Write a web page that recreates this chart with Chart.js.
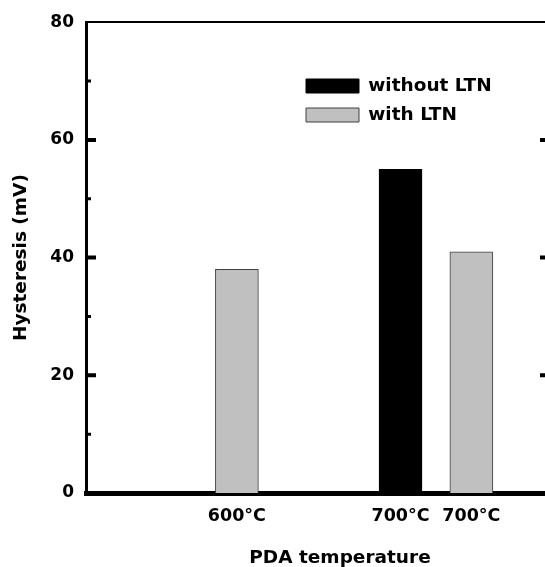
<!DOCTYPE html>
<html>
<head>
<meta charset="utf-8">
<script src="https://cdn.jsdelivr.net/npm/chart.js@4"></script>
<style>
  html, body { margin: 0; padding: 0; overflow: hidden; background: #fff; }
  canvas { display: block; }
</style>
</head>
<body>
<canvas id="chart" width="560" height="567"></canvas>
<script>
// bar slots along the temperature axis and their labels
const tempLabels = ["600\u00b0C", "700\u00b0C", "700\u00b0C"];
const slotX = [2.13, 4.44, 5.44];
const withoutLTN = [null, 55, null];
const withLTN = [38, null, 41];

const FONT = "'DejaVu Sans', sans-serif";
Chart.defaults.color = "#000";
Chart.defaults.font.family = FONT;

const toPoints = (vals) => slotX.map((x, i) => ({ x: x, y: vals[i] }));

// inward tick marks on the left and right axes
const innerTicks = {
  id: "innerTicks",
  afterDatasetsDraw(chart) {
    const { ctx, chartArea } = chart;
    const y = chart.scales.y;
    ctx.save();
    ctx.strokeStyle = "#000";
    y.ticks.forEach((t) => {
      if (t.value === y.min || t.value === y.max) return;
      const py = y.getPixelForValue(t.value);
      const major = t.value % 20 === 0;
      const len = major ? 10 : 5;
      ctx.lineWidth = major ? 4 : 3;
      ctx.beginPath();
      ctx.moveTo(chartArea.left, py);
      ctx.lineTo(chartArea.left + len, py);
      ctx.moveTo(chartArea.right, py);
      ctx.lineTo(chartArea.right - len, py);
      ctx.stroke();
    });
    ctx.restore();
  },
};

// legend inside the plot, and the x title centred a bit further right
const placeBoxes = {
  id: "placeBoxes",
  afterLayout(chart) {
    const lg = chart.legend;
    lg.left = 295.5;
    lg.top = 66.25;
    chart.scales.x.right += 44;
  },
};

new Chart(document.getElementById("chart"), {
  type: "bar",
  data: {
    datasets: [
      {
        label: "without LTN",
        data: toPoints(withoutLTN),
        backgroundColor: "#000",
        borderColor: "#000",
        borderWidth: 1,
      },
      {
        label: "with LTN",
        data: toPoints(withLTN),
        backgroundColor: "#c0c0c0",
        borderColor: "#404040",
        borderWidth: 1,
      },
    ],
  },
  options: {
    responsive: false,
    animation: false,
    devicePixelRatio: 1,
    layout: { padding: 0 },
    datasets: { bar: { barThickness: 43, grouped: false } },
    plugins: {
      tooltip: { enabled: false },
      legend: {
        position: "chartArea",
        align: "start",
        labels: {
          boxWidth: 53,
          boxHeight: 14,
          padding: 10.5,
          color: "#000",
          font: { family: FONT, size: 18.5, weight: "bold", lineHeight: 1 },
        },
      },
    },
    scales: {
      x: {
        type: "linear",
        position: "bottom",
        offset: false,
        min: 0,
        max: 6.55,
        grid: { display: false, drawTicks: false, offset: false },
        border: { display: true, width: 5, color: "#000" },
        afterBuildTicks: (s) => {
          s.ticks = slotX.map((v) => ({ value: v }));
        },
        afterFit: (s) => {
          s.height = 74;
        },
        ticks: {
          autoSkip: false,
          maxRotation: 0,
          padding: 13,
          font: { family: FONT, size: 17.5, weight: "bold" },
          callback: (v, i) => tempLabels[i],
        },
        title: {
          display: true,
          text: "PDA temperature",
          font: { family: FONT, size: 18.5, weight: "bold", lineHeight: 1 },
          padding: { top: 10, bottom: 0 },
        },
      },
      x2: {
        type: "linear",
        position: "top",
        offset: false,
        min: 0,
        max: 6.55,
        grid: { display: false, drawTicks: false },
        border: { display: true, width: 2, color: "#000" },
        ticks: { display: false },
        afterFit: (s) => {
          s.height = 22;
        },
      },
      y: {
        type: "linear",
        position: "left",
        min: 0,
        max: 80,
        grid: { display: false, drawTicks: false },
        border: { display: true, width: 3, color: "#000" },
        afterFit: (s) => {
          s.width = 86;
        },
        ticks: {
          stepSize: 10,
          padding: 12,
          font: { family: FONT, size: 17, weight: "bold" },
          callback: (v) => (v % 20 === 0 ? v : ""),
        },
        title: {
          display: true,
          text: "Hysteresis (mV)",
          font: { family: FONT, size: 18.5, weight: "bold", lineHeight: 1 },
          padding: { top: 12, bottom: 0 },
        },
      },
      y2: {
        type: "linear",
        position: "right",
        min: 0,
        max: 80,
        grid: { display: false, drawTicks: false },
        border: { display: true, width: 3, color: "#000" },
        ticks: { display: false },
        afterFit: (s) => {
          s.width = 10;
        },
      },
    },
  },
  plugins: [innerTicks, placeBoxes],
});
</script>
</body>
</html>
